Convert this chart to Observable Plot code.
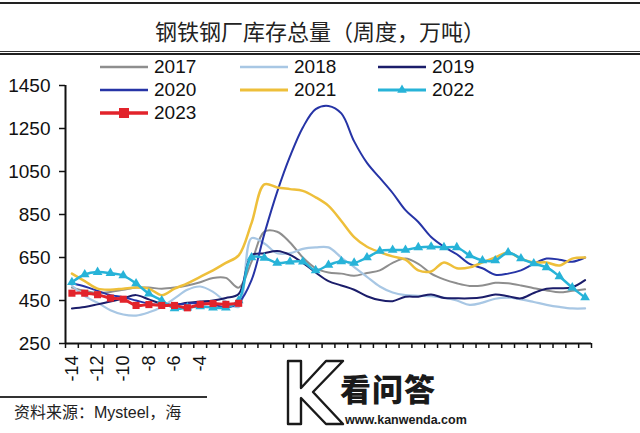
<!DOCTYPE html>
<html><head><meta charset="utf-8">
<script src="https://cdn.jsdelivr.net/npm/d3@7"></script>
<script src="https://cdn.jsdelivr.net/npm/@observablehq/plot@0.6"></script>
<style>
html,body{margin:0;padding:0;background:#fff;}
body{width:640px;height:433px;overflow:hidden;position:relative;font-family:"Liberation Sans",Arial,"Noto Sans CJK SC",sans-serif;color:#111;}
#topline{position:absolute;left:0;top:2px;width:640px;height:2px;background:#222;}
#title{position:absolute;left:0;top:14px;width:640px;text-align:center;font-family:"Noto Sans CJK SC",sans-serif;font-size:22px;line-height:32px;color:#222;}
#line2a{position:absolute;left:0;top:51px;width:640px;height:1px;background:#333;}
#line2b{position:absolute;left:0;top:53px;width:640px;height:2px;background:#222;}
#chart{position:absolute;left:0;top:56px;}
#legend{position:absolute;left:0;top:0;}
.li{position:absolute;display:flex;align-items:center;height:22px;font-size:19px;line-height:22px;}
.li svg{margin-right:6px;}
#capline{position:absolute;left:0;top:396px;width:207px;height:2px;background:#333;}
#caption{position:absolute;left:14px;top:402px;font-size:16px;line-height:22px;font-family:"Liberation Sans","Noto Sans CJK SC",sans-serif;color:#222;white-space:nowrap;}
#wm1{position:absolute;left:340px;top:368px;font-family:"Noto Sans CJK SC";font-weight:900;font-size:31px;line-height:40px;color:#1a1a1a;letter-spacing:1px;}
#wm2{position:absolute;left:345px;top:412px;font-family:"Liberation Sans";font-weight:bold;font-size:12.5px;line-height:16px;color:#1a1a1a;}
#wmk{position:absolute;left:284px;top:358px;}
</style>
</head><body>
<div id="topline"></div>
<div id="title">钢铁钢厂库存总量（周度，万吨）</div>
<div id="line2a"></div><div id="line2b"></div>
<div id="chart"></div>
<div id="legend"></div>
<div id="capline"></div>
<div id="caption">资料来源：Mysteel，海</div>
<svg id="wmk" width="64" height="70"><path d="M4,3 L17,3 L17,30 L42,3 L59,3 L29,34 L59,66 L42,66 L17,40 L17,66 L4,66 Z" fill="#fff" stroke="#1a1a1a" stroke-width="2.4" stroke-linejoin="round"/></svg>
<div id="wm1">看问答</div>
<div id="wm2">www.kanwenda.com</div>
<script>
// categories: weeks relative to Spring Festival
const weeks = [-14,-13,-12,-11,-10,-9,-8,-7,-6,-5,-4,-3,-2,-1,0,1,2,3,4,5,6,7,8,9,10,11,12,13,14,15,16,17,18,19,20,21,22,23,24,25,26];
const xLabelWeeks = [-14,-12,-10,-8,-6,-4];
const yTicks = [250,450,650,850,1050,1250,1450];
const years = ["2017","2018","2019","2020","2021","2022","2023"];

const s2017 = [510,495,485,490,500,510,510,505,510,520,535,555,555,510,630,770,770,720,650,600,580,575,565,578,590,625,645,620,575,548,530,518,520,532,530,520,507,497,488,495,502];
const s2018 = [520,470,440,405,385,380,395,420,460,500,515,490,445,420,740,715,670,670,690,697,697,650,605,560,515,487,475,472,470,463,450,430,440,458,463,455,443,430,420,413,413];
const s2019 = [413,420,432,445,460,475,455,435,430,440,445,450,462,480,660,670,680,662,625,580,540,520,500,470,452,447,467,468,478,462,460,460,465,478,470,460,485,505,507,512,545];
const s2020 = [530,515,495,475,465,450,435,428,430,435,440,432,418,440,545,760,955,1120,1255,1340,1355,1320,1190,1090,1020,950,870,815,745,700,665,620,600,570,575,590,620,645,640,630,650];
const s2021 = [575,540,505,500,505,510,505,475,505,530,560,590,625,660,810,990,976,968,960,930,890,820,745,700,675,655,640,590,585,627,600,604,627,650,673,645,627,627,613,645,650];
const s2022 = [535,571,582,577,566,529,482,450,413,417,422,417,417,450,650,648,625,630,630,590,615,632,625,650,680,685,685,697,700,697,697,660,636,636,673,645,622,604,562,510,464];
const s2023 = [484,484,477,461,456,427,431,427,427,416,432,436,432,437];

const colors = {"2017":"#8e8e8e","2018":"#a8c7e4","2019":"#1b1d6a","2020":"#2634a6","2021":"#eebf3a","2022":"#27b3d8","2023":"#e2232b"};
const widths = {"2017":2,"2018":2.2,"2019":2,"2020":2,"2021":2.5,"2022":2.5,"2023":3};
const seriesMap = {"2017":s2017,"2018":s2018,"2019":s2019,"2020":s2020,"2021":s2021,"2022":s2022,"2023":s2023};

const rows = y => seriesMap[y].map((v,i)=>({week:weeks[i], value:v, year:y}));
const tickPos = weeks.map(w=>w-0.5).concat([weeks[weeks.length-1]+0.5]);
const xMin = tickPos[0], xMax = tickPos[tickPos.length-1];

const marks = [];
for (const y of years) {
  marks.push(Plot.line(rows(y), {x:"week", y:"value", stroke:colors[y], strokeWidth:widths[y], curve:"catmull-rom"}));
  if (y==="2022") marks.push(Plot.dot(rows(y), {x:"week", y:"value", symbol:"triangle", fill:colors[y], r:3.6}));
  if (y==="2023") marks.push(Plot.dot(rows(y), {x:"week", y:"value", symbol:"square", fill:colors[y], r:4}));
}

const chart = Plot.plot({
  width:640, height:340,
  marginLeft:65, marginRight:49, marginTop:29, marginBottom:53,
  style:{fontFamily:"Liberation Sans, Arial, sans-serif", fontSize:"19px", color:"#111", background:"transparent"},
  x:{type:"linear", domain:[xMin,xMax], axis:null},
  y:{domain:[250,1450], axis:null},
  marks:[
    Plot.axisY({ticks:yTicks, tickSize:6, tickPadding:9, label:null, fontSize:19, strokeWidth:1.5, tickFormat:d=>String(d)}),
    Plot.axisX({ticks:tickPos, tickSize:5, tickFormat:()=>"", label:null, strokeWidth:1.5}),
    Plot.axisX({ticks:xLabelWeeks, tickSize:0, tickRotate:-90, tickPadding:12, label:null, fontSize:18, tickFormat:d=>String(d)}),
    ...marks,
    Plot.ruleX([xMin], {y1:250, y2:1450, stroke:"#111", strokeWidth:2}),
    Plot.ruleY([250], {x1:xMin, x2:xMax, stroke:"#111", strokeWidth:2})
  ]
});
document.getElementById("chart").appendChild(chart);

// legend
const legendPos = {"2017":[100,56],"2018":[240,56],"2019":[378,56],"2020":[100,79],"2021":[240,79],"2022":[378,79],"2023":[100,102]};
const lg = d3.select("#legend");
for (const y of years) {
  const [lx,ly] = legendPos[y];
  const item = lg.append("div").attr("class","li").style("left",lx+"px").style("top",ly+"px");
  const sv = item.append("svg").attr("width",48).attr("height",14);
  sv.append("line").attr("x1",0).attr("x2",48).attr("y1",7).attr("y2",7).attr("stroke",colors[y]).attr("stroke-width",widths[y]+0.5);
  if (y==="2022") sv.append("path").attr("d",d3.symbol(d3.symbolTriangle,40)()).attr("transform","translate(24,7)").attr("fill",colors[y]);
  if (y==="2023") sv.append("rect").attr("x",19).attr("y",2).attr("width",10).attr("height",10).attr("fill",colors[y]);
  item.append("span").text(y);
}
</script>
</body></html>
